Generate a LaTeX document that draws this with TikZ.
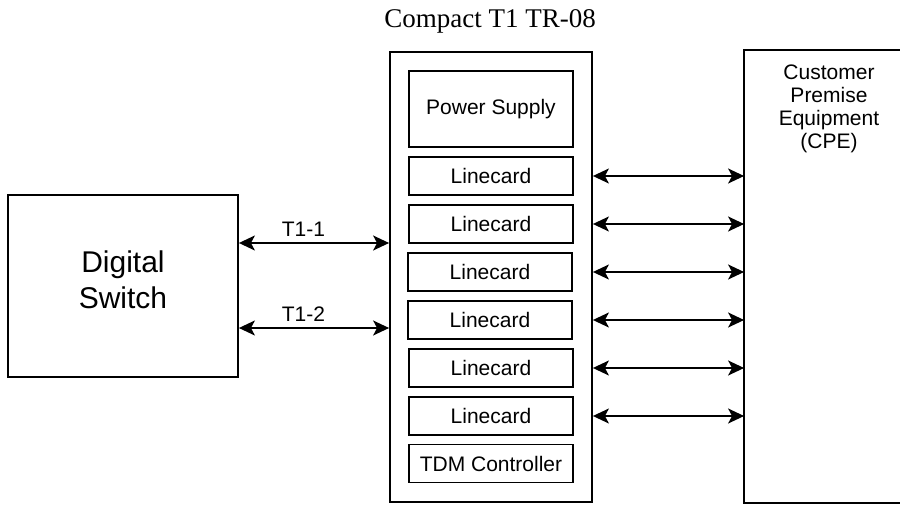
\documentclass[tikz,border=0pt]{standalone}
\usepackage{fontspec}
\setmainfont{Liberation Sans}
\newfontfamily\titlefont{Liberation Serif}
\usetikzlibrary{arrows.meta}

\begin{document}
\begin{tikzpicture}[x=0.5pt, y=-0.5pt]
        \tikzstyle{block}=[draw,line width=0.9pt,inner sep=0pt,font=\fontsize{10.5}{11.5}\selectfont]
        \tikzstyle{card}=[block,minimum width=82pt,minimum height=19pt]
        \tikzstyle{duplex}=[{Stealth[length=8pt,width=7.5pt,inset=2pt]}-{Stealth[length=8pt,width=7.5pt,inset=2pt]},line width=0.85pt]

        \useasboundingbox (0,0) rectangle (900,508);

        \node[font=\titlefont\fontsize{13.5}{16}\selectfont, anchor=base] (title) at (490,28) {Compact T1 TR-08};

        \node[block, minimum width=115pt, minimum height=91pt, label={[align=center, yshift=3pt, font=\fontsize{15}{18}\selectfont]center:Digital\\Switch}] (SW) at (123,286) {};
        \node[block, minimum width=101pt, minimum height=225pt] (CH) at (491,277) {};
        % CPE box runs off the right edge
        \node[block, draw=none, minimum width=84pt, minimum height=225.5pt] (CPE) at (829,276.5) {};
        \draw[line width=0.9pt] ([xshift=2pt]CPE.north east) -- (CPE.north west) -- (CPE.south west) -- ([xshift=2pt]CPE.south east);
        \node[align=center, anchor=north, inner sep=0pt, font=\fontsize{10.5}{11.5}\selectfont] (CPE_txt) at ([yshift=-7pt]CPE.north) {Customer\\Premise\\Equipment\\(CPE)};

        \node[card, minimum height=38pt] (PS) at (491,109) {Power Supply};
        \node[card] (LC_1) at (491,176) {Linecard};
        \node[card] (LC_2) at (491,224) {Linecard};
        \node[card] (LC_3) at (490,272) {Linecard};
        \node[card] (LC_4) at (490,320) {Linecard};
        \node[card] (LC_5) at (491,368) {Linecard};
        \node[card] (LC_6) at (491,416) {Linecard};
        \node[card] (TDM) at (491,463.5) {TDM Controller};

        \draw[duplex] ([yshift=21.5pt]SW.east) -- ([yshift=21.5pt]SW.east -| CH.west) node[pos=0.43,above,inner sep=3pt,font=\fontsize{10.5}{11.5}\selectfont] {T1-1};
        \draw[duplex] ([yshift=-21pt]SW.east) -- ([yshift=-21pt]SW.east -| CH.west) node[pos=0.43,above,inner sep=3pt,font=\fontsize{10.5}{11.5}\selectfont] {T1-2};

        \draw[duplex] (CH.east |- LC_1) -- (CPE.west |- LC_1);
        \draw[duplex] (CH.east |- LC_2) -- (CPE.west |- LC_2);
        \draw[duplex] (CH.east |- LC_3) -- (CPE.west |- LC_3);
        \draw[duplex] (CH.east |- LC_4) -- (CPE.west |- LC_4);
        \draw[duplex] (CH.east |- LC_5) -- (CPE.west |- LC_5);
        \draw[duplex] (CH.east |- LC_6) -- (CPE.west |- LC_6);
\end{tikzpicture}
\end{document}
